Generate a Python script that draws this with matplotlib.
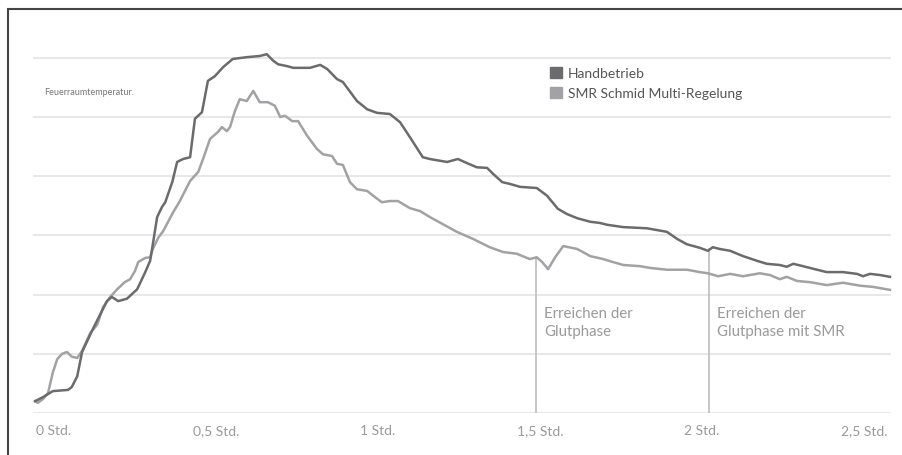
import matplotlib.pyplot as plt
from matplotlib.patches import Patch, Rectangle

plt.rcParams['font.family'] = ['Lato', 'DejaVu Sans']

# Zeit in Minuten, Temperatur in relativen Einheiten (Gitter = 100)
hand_min = [-3.5, -2.0, -0.2, 2.6, 3.3, 4.3, 5.2, 7.2, 9.8, 10.7, 11.9, 13.5, 15.4, 16.9,
            17.8, 18.3, 19.1, 20.0, 20.6, 21.9, 22.8, 23.9, 25.2, 26.1, 27.4, 28.5, 29.8,
            31.3, 33.1, 35.7, 38.1, 39.4, 40.6, 41.5, 43.1, 44.3, 45.6, 47.4, 49.3, 50.6,
            52.4, 53.5, 56.1, 58.0, 59.8, 62.2, 64.1, 65.9, 68.3, 69.6, 72.8, 74.8, 76.5,
            78.3, 80.2, 81.3, 83.0, 84.4, 86.3, 89.4, 91.3, 93.3, 95.0, 96.9, 99.3, 101.1,
            102.4, 105.4, 109.8, 113.5, 115.4, 117.2, 119.6, 121.1, 122.0, 123.3, 125.2,
            127.6, 130.2, 132.0, 134.4, 135.7, 136.9, 138.7, 141.3, 143.1, 146.1, 148.7,
            149.8, 151.1, 153.0, 154.8]
hand_temp = [20, 27, 37, 39, 44, 62, 103, 142, 189, 196, 189, 193, 209, 238,
             257, 285, 331, 348, 356, 390, 424, 429, 432, 497, 508, 561, 569,
             584, 598, 601, 603, 606, 595, 589, 586, 583, 583, 583, 588, 581,
             564, 559, 527, 513, 507, 505, 491, 466, 432, 429, 424, 429, 422,
             415, 414, 404, 390, 387, 382, 380, 367, 345, 336, 329, 323, 321,
             318, 314, 312, 306, 294, 285, 279, 274, 280, 277, 274,
             265, 257, 252, 250, 247, 252, 248, 242, 238, 238, 235,
             231, 235, 233, 230]

smr_min = [-3.5, -3.0, -2.0, -1.1, -0.2, 0.6, 1.5, 2.4, 3.3, 4.3, 5.2, 6.7, 8.0, 9.1,
           10.4, 11.7, 13.1, 14.1, 15.0, 15.6, 16.9, 17.8, 18.3, 19.3, 20.2, 22.0, 23.3,
           25.2, 26.7, 27.6, 28.9, 30.4, 31.1, 32.0, 32.6, 33.5, 34.4, 35.7, 36.9, 38.1,
           39.6, 40.9, 41.9, 42.8, 44.1, 45.2, 46.9, 48.7, 49.8, 51.5, 52.4, 53.5, 54.8,
           56.1, 58.0, 59.1, 60.7, 62.2, 63.7, 65.9, 67.8, 69.6, 72.0, 74.6, 77.6, 80.7,
           83.1, 85.7, 88.1, 89.4, 90.4, 91.5, 92.8, 94.3, 96.9, 99.3, 101.7, 103.5,
           105.4, 108.5, 110.4, 113.5, 117.2, 119.6, 121.1, 123.0, 125.2, 127.6, 130.7,
           132.6, 134.4, 135.7, 137.6, 140.0, 143.1, 146.1, 149.3, 151.7, 154.8]
smr_temp = [20, 17, 24, 34, 69, 91, 100, 103, 95, 93, 105, 135, 149, 179,
            196, 209, 221, 226, 240, 255, 262, 263, 277, 296, 307, 338, 358,
            392, 407, 429, 463, 475, 483, 476, 483, 510, 530, 527, 544, 525,
            525, 519, 500, 502, 493, 493, 468, 446, 437, 434, 421, 419, 390,
            378, 375, 367, 356, 358, 358, 346, 341, 331, 319, 306, 294, 280,
            272, 269, 260, 263, 255, 243, 263, 282, 277, 265, 260, 255,
            250, 248, 245, 242, 242, 238, 236, 231, 235, 231, 236,
            233, 226, 230, 223, 221, 216, 220, 215, 213, 208]

tick_min = [0, 30, 60, 90, 120, 150]
tick_labels = ['0 Std.', '0,5 Std.', '1 Std.', '1,5 Std.', '2 Std.', '2,5 Std.']

marker_min = [89.3, 121.3]
marker_top = [263, 277]
marker_text = ['Erreichen der\nGlutphase', 'Erreichen der\nGlutphase mit SMR']

dark = '#6b6b6d'
light = '#a2a2a4'

fig = plt.figure(figsize=(9.03, 4.56), dpi=100)
ax = fig.add_axes([33 / 903, 42 / 456, 858 / 903, 384 / 456])
ax.set_xlim(-3.89, 155.0)
ax.set_ylim(0, 648.6)

ax.set_yticks(range(0, 700, 100))
ax.yaxis.grid(True, color='#e8e8e8', lw=1.5)
ax.set_axisbelow(True)
ax.tick_params(axis='y', length=0, labelleft=False)
ax.set_xticks(tick_min)
ax.set_xticklabels(tick_labels, fontsize=10, color='#9a9a9a')
ax.tick_params(axis='x', length=0, pad=8)
for s in ax.spines.values():
    s.set_visible(False)

for m, top, txt in zip(marker_min, marker_top, marker_text):
    ax.plot([m, m], [0, top], color='#b8b8b8', lw=1.1, zorder=2)
    ax.text(m + 1.5, 180, txt, fontsize=10.8, color='#9a9a9a', va='top',
            ha='left', linespacing=1.35)

ax.plot(smr_min, smr_temp, color=light, lw=1.8, zorder=3, clip_on=False)
ax.plot(hand_min, hand_temp, color=dark, lw=1.8, zorder=4, clip_on=False)

ax.text(-1.9, 543, 'Feuerraumtemperatur.', fontsize=6.5, color='#777777', va='center')

handles = [Patch(color=dark), Patch(color=light)]
fig.legend(handles, ['Handbetrieb', 'SMR Schmid Multi-Regelung'],
           loc='upper left', bbox_to_anchor=(550 / 903, 1 - 68 / 456),
           frameon=False, fontsize=10, handlelength=0.85, handleheight=0.85,
           handletextpad=0.45, labelspacing=0.55, labelcolor='#555555',
           borderaxespad=0, borderpad=0)

fig.patches.append(Rectangle((7.5 / 903, -0.1), 1.2, 1 - 10 / 456 + 0.1,
                             transform=fig.transFigure, fill=False,
                             edgecolor='#444444', lw=1.5))

fig.savefig('out.png', dpi=100)
